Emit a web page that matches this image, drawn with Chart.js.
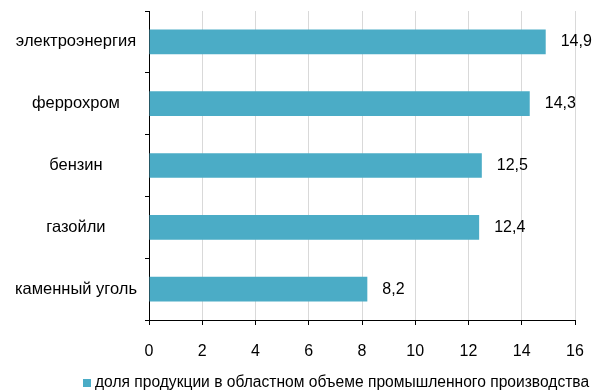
<!DOCTYPE html>
<html lang="ru">
<head>
  <meta charset="UTF-8" />
  <title>Доля продукции</title>
  <script src="https://cdn.jsdelivr.net/npm/chart.js"></script>
  <style>
    html, body { margin: 0; padding: 0; background: #fff; }
    #wrap { width: 594px; height: 392px; position: relative; }
  </style>
</head>
<body>
  <div id="wrap"><canvas id="chart"></canvas></div>
  <script>
    const categories = ["электроэнергия", "феррохром", "бензин", "газойли", "каменный уголь"];
    const shares = [14.9, 14.3, 12.5, 12.4, 8.2];
    const seriesName = "доля продукции в областном объеме промышленного производства";
    const barColor = "#4bacc6";
    const font = "'Liberation Sans', Arial, sans-serif";

    // value labels right of each bar
    const valueLabels = {
      id: "valueLabels",
      afterDatasetsDraw(chart) {
        const c = chart.ctx;
        const meta = chart.getDatasetMeta(0);
        c.save();
        c.font = "16px " + font;
        c.fillStyle = "#000";
        c.textBaseline = "middle";
        c.textAlign = "left";
        meta.data.forEach((bar, i) => {
          c.fillText(String(shares[i]).replace(".", ","), bar.x + 15, bar.y);
        });
        c.restore();
      }
    };

    // legend drawn by hand so it can run past the right edge like the original
    const bottomLegend = {
      id: "bottomLegend",
      afterDraw(chart) {
        const c = chart.ctx;
        const y = 383;
        c.save();
        c.fillStyle = barColor;
        c.fillRect(83, y - 4, 8, 8);
        c.font = "15.6px " + font;
        c.fillStyle = "#000";
        c.textBaseline = "middle";
        c.fillText(chart.data.datasets[0].label, 95, y);
        c.restore();
      }
    };

    new Chart(document.getElementById("chart"), {
      type: "bar",
      data: {
        labels: categories,
        datasets: [{
          label: seriesName,
          data: shares,
          backgroundColor: barColor,
          barPercentage: 0.4,
          categoryPercentage: 1
        }]
      },
      options: {
        indexAxis: "y",
        responsive: true,
        maintainAspectRatio: false,
        animation: false,
        layout: { padding: { top: 11, right: 19, bottom: 32, left: 0 } },
        plugins: {
          legend: { display: false },
          tooltip: { enabled: false }
        },
        scales: {
          x: {
            min: 0,
            max: 16,
            afterFit(scale) {
              scale.height = 40;
              scale.paddingRight = 0;
              scale.paddingLeft = 0;
            },
            ticks: {
              stepSize: 2,
              color: "#000",
              padding: 17,
              font: { family: font, size: 16 }
            },
            grid: { color: "#d9d9d9", tickColor: "#000", tickLength: 5 },
            border: { color: "#000" }
          },
          y: {
            afterFit(scale) {
              scale.width = 149;
              scale.paddingTop = 0;
              scale.paddingBottom = 0;
            },
            ticks: {
              color: "#000",
              crossAlign: "center",
              padding: 8,
              font: { family: font, size: 16.5 }
            },
            grid: { offset: true, drawOnChartArea: false, tickColor: "#000", tickLength: 4 },
            border: { color: "#000" }
          }
        }
      },
      plugins: [valueLabels, bottomLegend]
    });
  </script>
</body>
</html>
